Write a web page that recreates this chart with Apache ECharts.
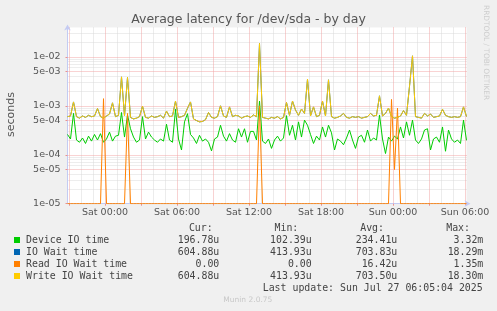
<!DOCTYPE html>
<html>
<head>
<meta charset="utf-8">
<title>Average latency for /dev/sda - by day</title>
<script src="https://cdn.jsdelivr.net/npm/echarts@6/dist/echarts.min.js"></script>
<style>
  html, body { margin: 0; padding: 0; background: #f0f0f0; }
  #chart { width: 497px; height: 311px; }
</style>
</head>
<body>
<div id="chart"></div>
<script>
// samples every 15 min, hours counted from Sat 00:00 (first one is Fri 20:52:30)
const startHour = -3.125;
const stepHour = 0.25;

// latencies in microseconds
const deviceIoUs = [
  260, 210, 700, 200, 180, 220, 170, 240, 190, 260,
  200, 270, 180, 210, 290, 190, 240, 250, 730, 230,
  650, 340, 230, 180, 200, 600, 210, 290, 230, 200,
  180, 210, 190, 420, 200, 180, 850, 210, 125, 470,
  690, 260, 220, 170, 250, 190, 210, 180, 120, 210,
  230, 400, 240, 190, 270, 200, 180, 340, 230, 340,
  180, 300, 300, 200, 1250, 190, 170, 210, 135, 200,
  240, 190, 220, 630, 250, 400, 200, 470, 230, 510,
  400, 260, 170, 240, 200, 370, 230, 400, 280, 125,
  210, 190, 160, 220, 320, 200, 135, 230, 250, 180,
  320, 190, 220, 200, 650, 210, 106, 230, 190, 240,
  210, 370, 220, 470, 250, 510, 200, 170, 210, 320,
  340, 125, 210, 230, 180, 370, 118, 320, 210, 180,
  200, 170, 510, 197
];
const ioWaitUs = [
  600, 620, 1200, 600, 560, 620, 580, 640, 600, 620,
  880, 600, 560, 620, 680, 1150, 600, 640, 3900, 620,
  3800, 580, 540, 560, 600, 980, 580, 560, 620, 580,
  600, 640, 560, 780, 600, 620, 1250, 580, 600, 640,
  890, 1200, 540, 500, 470, 480, 520, 730, 580, 560,
  600, 1000, 620, 580, 950, 600, 640, 620, 560, 600,
  620, 580, 650, 600, 18800, 580, 560, 540, 580, 560,
  600, 540, 580, 1170, 640, 1250, 820, 640, 860, 700,
  3500, 620, 950, 600, 640, 1250, 620, 3400, 600, 560,
  580, 620, 700, 580, 560, 600, 580, 600, 560, 580,
  600, 700, 620, 640, 1600, 620, 700, 900, 600, 560,
  580, 620, 800, 640, 2500, 10500, 600, 580, 560, 700,
  620, 680, 580, 600, 620, 850, 640, 600, 580, 600,
  580, 600, 950, 605
];
const readWaitUs = [
  0, 0, 0, 0, 0, 0, 0, 0, 0, 0,
  0, 0, 1400, 0, 0, 0, 0, 0, 0, 0,
  700, 0, 0, 0, 0, 0, 0, 0, 0, 0,
  0, 0, 0, 0, 0, 0, 0, 0, 0, 0,
  0, 0, 0, 0, 0, 0, 0, 0, 0, 0,
  0, 0, 0, 0, 0, 0, 0, 0, 0, 0,
  0, 0, 0, 0, 1000, 0, 0, 0, 0, 0,
  0, 0, 0, 0, 0, 0, 0, 0, 0, 0,
  0, 0, 0, 0, 0, 0, 0, 0, 0, 0,
  0, 0, 0, 0, 0, 0, 0, 0, 0, 0,
  0, 0, 0, 0, 0, 0, 0, 0, 1350, 50,
  900, 0, 0, 0, 0, 0, 0, 0, 0, 0,
  0, 0, 0, 0, 0, 0, 0, 0, 0, 0,
  0, 0, 0, 0
];
const writeWaitUs = [
  600, 620, 1200, 600, 560, 620, 580, 640, 600, 620,
  880, 600, 560, 620, 680, 1150, 600, 640, 3900, 620,
  3800, 580, 540, 560, 600, 980, 580, 560, 620, 580,
  600, 640, 560, 780, 600, 620, 1250, 580, 600, 640,
  890, 1200, 540, 500, 470, 480, 520, 730, 580, 560,
  600, 1000, 620, 580, 950, 600, 640, 620, 560, 600,
  620, 580, 650, 600, 18800, 580, 560, 540, 580, 560,
  600, 540, 580, 1170, 640, 1250, 820, 640, 860, 700,
  3500, 620, 950, 600, 640, 1250, 620, 3400, 600, 560,
  580, 620, 700, 580, 560, 600, 580, 600, 560, 580,
  600, 700, 620, 640, 1600, 620, 700, 900, 600, 560,
  580, 620, 800, 640, 2500, 10500, 600, 580, 560, 700,
  620, 680, 580, 600, 620, 850, 640, 600, 580, 600,
  580, 600, 950, 605
];

const xTickHours = [0, 6, 12, 18, 24, 30];
const xTickLabels = ['Sat 00:00', 'Sat 06:00', 'Sat 12:00', 'Sat 18:00', 'Sun 00:00', 'Sun 06:00'];
const yTickValues = [1e-5, 5e-5, 1e-4, 5e-4, 1e-3, 5e-3, 1e-2];
const yTickLabels = ['1e-05', '5e-05', '1e-04', '5e-04', '1e-03', '5e-03', '1e-02'];

const legendNames = ['Device IO time', 'IO Wait time', 'Read IO Wait time', 'Write IO Wait time'];
const legendCur = ['196.78u', '604.88u', '0.00', '604.88u'];
const legendMin = ['102.39u', '413.93u', '0.00', '413.93u'];
const legendAvg = ['234.41u', '703.83u', '16.42u', '703.50u'];
const legendMax = ['3.32m', '18.29m', '1.35m', '18.30m'];

const colors = ['#00cc00', '#0066b3', '#ff8000', '#ffcc00'];
const seriesUs = [deviceIoUs, ioWaitUs, readWaitUs, writeWaitUs];

const xMin = -3.125, xMax = 30.125;
const yMin = -5, yMax = -1.4;   // log10 of seconds

// grid lines: red every 3 h / at 1 and 5 of each decade, grey for the rest
const majorX = [], minorX = [];
for (let h = -3; h <= 30; h++) (h % 3 === 0 ? majorX : minorX).push(h);
const majorY = yTickValues.map(v => Math.log10(v));
const minorY = [];
for (let d = -5; d <= -2; d++) {
  for (let k = 2; k <= 9; k++) {
    if (k !== 5) minorY.push(Math.log10(k * Math.pow(10, d)));
  }
}

const toPoints = us => us.map((v, i) => [startHour + i * stepHour, Math.log10(Math.max(v, 10) * 1e-6)]);
const nearest = (list, v) => {
  let best = 0;
  list.forEach((x, i) => { if (Math.abs(x - v) < Math.abs(list[best] - v)) best = i; });
  return best;
};

const axisColor = '#c4cbf3';
const minorGrid = { color: '#dadada', width: 1, type: [1, 1] };
const majorGrid = { color: '#f2a6a6', width: 1, type: [1, 1] };
const labelFont = { color: '#555', fontSize: 9.5, fontFamily: 'DejaVu Sans' };
const mono = '9.9px "DejaVu Sans Mono"';

const chart = echarts.init(document.getElementById('chart'));

const graphics = [
  { type: 'text', x: 11.2, y: 114.5, rotation: Math.PI / 2,
    style: { text: 'seconds', font: '11px "DejaVu Sans"', fill: '#555', align: 'center', verticalAlign: 'middle', textAlign: 'center', textVerticalAlign: 'middle' } },
  { type: 'text', x: 486.3, y: 5, rotation: -Math.PI / 2,
    style: { text: 'RRDTOOL / TOBI OETIKER', font: '7.4px "DejaVu Sans"', fill: '#cdcdcd', align: 'left', verticalAlign: 'middle', textAlign: 'left', textVerticalAlign: 'middle' } }
];
const rightText = (text, x, y, color) => ({ type: 'text', x: x, y: y,
  style: { text: text, font: mono, fill: color || '#444', align: 'right', verticalAlign: 'middle', textAlign: 'right', textVerticalAlign: 'middle' } });
graphics.push(rightText('Cur:', 212.7, 228), rightText('Min:', 298.3, 228), rightText('Avg:', 384, 228), rightText('Max:', 470, 228));
legendNames.forEach((name, r) => {
  const y = 240 + 12 * r;
  graphics.push({ type: 'rect', shape: { x: 14, y: y - 3, width: 6, height: 6 }, style: { fill: colors[r] } });
  graphics.push({ type: 'text', x: 26, y: y,
    style: { text: name, font: mono, fill: '#444', align: 'left', verticalAlign: 'middle', textAlign: 'left', textVerticalAlign: 'middle' } });
  graphics.push(rightText(legendCur[r], 219.3, y), rightText(legendMin[r], 311.7, y),
    rightText(legendAvg[r], 397.3, y), rightText(legendMax[r], 483.3, y));
});
graphics.push(rightText('Last update: Sun Jul 27 06:05:04 2025', 482.7, 288));
graphics.push({ type: 'text', x: 247.8, y: 300,
  style: { text: 'Munin 2.0.75', font: '7.5px "DejaVu Sans"', fill: '#c8c8c8', align: 'center', verticalAlign: 'middle', textAlign: 'center', textVerticalAlign: 'middle' } });

const option = {
  backgroundColor: '#f0f0f0',
  animation: false,
  title: {
    text: 'Average latency for /dev/sda - by day',
    left: 'center',
    top: 13,
    padding: 0,
    textStyle: { fontSize: 12.5, fontWeight: 'normal', color: '#555', fontFamily: 'DejaVu Sans', lineHeight: 13 }
  },
  grid: {
    left: 67.5, top: 27.5, width: 399, height: 176.2,
    show: true, backgroundColor: '#ffffff', borderWidth: 0
  },
  xAxis: [
    {
      type: 'value', min: xMin, max: xMax, position: 'bottom', z: 0,
      axisLine: { show: false, onZero: false },
      axisTick: { show: false, customValues: minorX },
      axisLabel: { show: false },
      splitLine: { show: true, lineStyle: minorGrid }
    },
    {
      type: 'value', min: xMin, max: xMax, position: 'bottom', z: 1,
      axisLine: { show: true, onZero: false, lineStyle: { color: axisColor },
        symbol: ['none', 'arrow'], symbolSize: [5, 6], symbolOffset: [0, 4] },
      axisTick: { show: true, length: 2, customValues: majorX, lineStyle: { color: '#eb9090' } },
      axisLabel: Object.assign({
        customValues: xTickHours,
        margin: 4,
        formatter: v => xTickLabels[nearest(xTickHours, v)]
      }, labelFont),
      splitLine: { show: true, lineStyle: majorGrid }
    }
  ],
  yAxis: [
    {
      type: 'value', min: yMin, max: yMax, position: 'left', z: 0,
      axisLine: { show: false, onZero: false },
      axisTick: { show: false, customValues: minorY },
      axisLabel: { show: false },
      splitLine: { show: true, lineStyle: minorGrid }
    },
    {
      type: 'value', min: yMin, max: yMax, position: 'left', z: 1,
      axisLine: { show: true, onZero: false, lineStyle: { color: axisColor },
        symbol: ['none', 'arrow'], symbolSize: [5, 6], symbolOffset: [0, 3] },
      axisTick: { show: true, length: 2, customValues: majorY, lineStyle: { color: '#eb9090' } },
      axisLabel: Object.assign({
        customValues: majorY,
        margin: 7,
        formatter: v => yTickLabels[nearest(majorY, v)]
      }, labelFont),
      splitLine: { show: true, lineStyle: majorGrid }
    }
  ],
  series: legendNames.map((name, k) => ({
    name: name,
    type: 'line',
    xAxisIndex: 1,
    yAxisIndex: 1,
    data: toPoints(seriesUs[k]),
    symbol: 'none',
    z: 2 + k,
    lineStyle: { width: 1, color: colors[k] },
    itemStyle: { color: colors[k] }
  })),
  graphic: graphics
};

chart.setOption(option);
</script>
</body>
</html>
